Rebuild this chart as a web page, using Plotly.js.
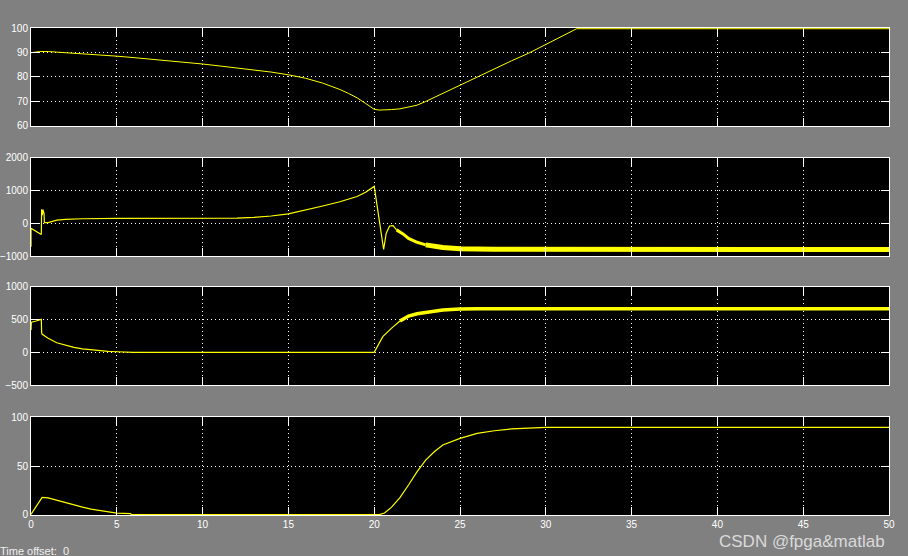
<!DOCTYPE html>
<html>
<head>
<meta charset="utf-8">
<script src="https://cdn.plot.ly/plotly-3.0.1.min.js"></script>
<style>
  html, body { margin: 0; padding: 0; background: #808080; }
  #chart { width: 908px; height: 556px; }
</style>
</head>
<body>
<div id="chart"></div>
<script>
// ---- Data (time in s) ----
// Panel 1 (range 60..100)
const t1 = [0, 0.5, 1, 2, 3, 4, 5, 6, 7, 8, 9, 10, 11, 12, 13, 14, 15, 16, 17, 17.5, 18, 18.5, 19, 19.5, 20, 20.3, 20.6, 21, 21.5, 22, 22.5, 23, 24, 25, 26, 27, 28, 29, 30, 31, 31.8, 50];
const v1 = [89.9, 90.4, 90.4, 90.0, 89.5, 89.0, 88.5, 87.9, 87.3, 86.6, 86.0, 85.3, 84.5, 83.7, 82.9, 82.0, 80.9, 79.5, 77.5, 76.3, 74.9, 73.3, 71.5, 69.2, 66.8, 66.5, 66.5, 66.7, 67.0, 67.6, 68.5, 70.0, 73.3, 76.7, 80.1, 83.5, 86.6, 89.7, 93.2, 96.6, 99.7, 99.7];

// Panel 2 (range -1000..2000): smooth part, transition and noisy tail
const t2 = [0, 0, 0.6, 0.62, 0.66, 0.7, 0.76, 0.78, 1.0, 1.2, 1.5, 2, 3, 5, 10, 11, 12, 13, 14, 15, 16, 17, 18, 19, 19.5, 20, 20.55, 20.7, 20.9, 21.1, 21.3];
const v2 = [-720, -150, -340, 430, 250, 420, 300, 20, 20, 60, 100, 120, 140, 150, 150, 152, 160, 185, 225, 290, 400, 530, 660, 820, 950, 1130, -800, -300, -80, -70, -200];
const t2m = [21.3, 21.7, 22, 22.5, 23];
const v2m = [-200, -330, -460, -580, -660];
const t2n = [23, 23.5, 24, 25, 27, 50];
const v2n = [-660, -710, -740, -780, -795, -800];

// Panel 3 (range -500..1000)
const t3 = [0, 0.02, 0.3, 0.6, 0.62, 0.64, 0.8, 1, 1.5, 2, 2.5, 3, 3.5, 4, 4.5, 5, 5.5, 6, 20, 20.5, 21, 21.5];
const v3 = [340, 460, 480, 505, 300, 280, 250, 214, 147, 105, 75, 52, 37, 25, 16, 9, 5, 0, 0, 240, 367, 479];
const t3n = [21.5, 22, 22.5, 23, 24, 25, 26, 50];
const v3n = [479, 555, 590, 612, 647, 663, 668, 668];

// Panel 4 (range 0..100)
const t4 = [0, 0.65, 1, 1.5, 2, 2.5, 3, 3.5, 4, 4.5, 5, 5.8, 5.85, 20.3, 20.6, 21, 21.5, 22, 22.5, 23, 23.5, 24, 24.5, 25, 26, 27, 28, 29, 30, 50];
const v4 = [0.7, 18, 17.5, 15, 12.5, 10, 8, 6, 4.5, 3, 2, 1.5, 0.4, 0.4, 2, 7.8, 17.7, 30.6, 44.2, 56.1, 64.6, 71.4, 75, 78.2, 83.3, 86, 87.8, 88.8, 89.5, 89.5];

// Axis settings
const xTicks = [0, 5, 10, 15, 20, 25, 30, 35, 40, 45, 50];
const yRanges = [[60, 100], [-1000, 2000], [-500, 1000], [0, 100]];
const yDticks = [10, 1000, 500, 50];

// ---- Styling ----
const YEL = '#ffff00';
const tickFont = { family: 'Liberation Sans, Arial, sans-serif', size: 10, color: '#ffffff' };
const domains = [[0.7988, 1], [0.5318, 0.7331], [0.2669, 0.4682], [0, 0.2012]];

function line(x, y, ax, w) {
  return { x: x, y: y, xaxis: 'x' + (ax === 1 ? '' : ax), yaxis: 'y' + (ax === 1 ? '' : ax),
    type: 'scatter', mode: 'lines', line: { color: YEL, width: w }, hoverinfo: 'skip', showlegend: false };
}

const traces = [
  line(t1, v1, 1, 1),
  line(t2, v2, 2, 1.2),
  line(t2m, v2m, 2, 3),
  line(t2n, v2n, 2, 5),
  line(t3, v3, 3, 1.2),
  line(t3n, v3n, 3, 3.5),
  line(t4, v4, 4, 1.2)
];

const layout = {
  width: 908, height: 556,
  margin: { l: 31, r: 19, t: 28, b: 41, pad: 0 },
  paper_bgcolor: '#808080',
  plot_bgcolor: '#000000',
  showlegend: false,
  annotations: [
    { text: 'Time offset:  0', xref: 'paper', yref: 'paper', x: -0.0385, y: -0.074,
      xanchor: 'left', yanchor: 'middle', showarrow: false,
      font: { family: 'Liberation Sans, Arial, sans-serif', size: 11, color: '#f0f0f0' } },
    { text: 'CSDN @fpga&matlab', xref: 'paper', yref: 'paper', x: 0.8986, y: -0.054,
      xanchor: 'center', yanchor: 'middle', showarrow: false,
      font: { family: 'Liberation Sans, Arial, sans-serif', size: 17, color: 'rgba(235,235,235,0.85)' } }
  ]
};

for (let i = 0; i < 4; i++) {
  const s = i === 0 ? '' : String(i + 1);
  layout['xaxis' + s] = {
    domain: [0, 1], range: [0, 50], anchor: 'y' + s,
    tickmode: 'array', tickvals: xTicks, ticktext: xTicks.map(String),
    showgrid: true, gridcolor: '#ffffff', gridwidth: 1, griddash: '1px,3px',
    zeroline: false, showline: true, linecolor: '#ffffff', linewidth: 1, mirror: 'ticks',
    ticks: 'inside', ticklen: 8, tickcolor: '#ffffff', tickwidth: 1,
    showticklabels: i === 3, tickfont: tickFont, fixedrange: true
  };
  layout['yaxis' + s] = {
    domain: domains[i], range: yRanges[i], anchor: 'x' + s,
    tick0: yRanges[i][0], dtick: yDticks[i],
    showgrid: true, gridcolor: '#ffffff', gridwidth: 1, griddash: '1px,3px',
    zeroline: false, showline: true, linecolor: '#ffffff', linewidth: 1, mirror: 'ticks',
    ticks: 'inside', ticklen: 8, tickcolor: '#ffffff', tickwidth: 1,
    showticklabels: true, tickfont: tickFont, fixedrange: true
  };
}

Plotly.newPlot('chart', traces, layout, { staticPlot: true, displayModeBar: false });
</script>
</body>
</html>
